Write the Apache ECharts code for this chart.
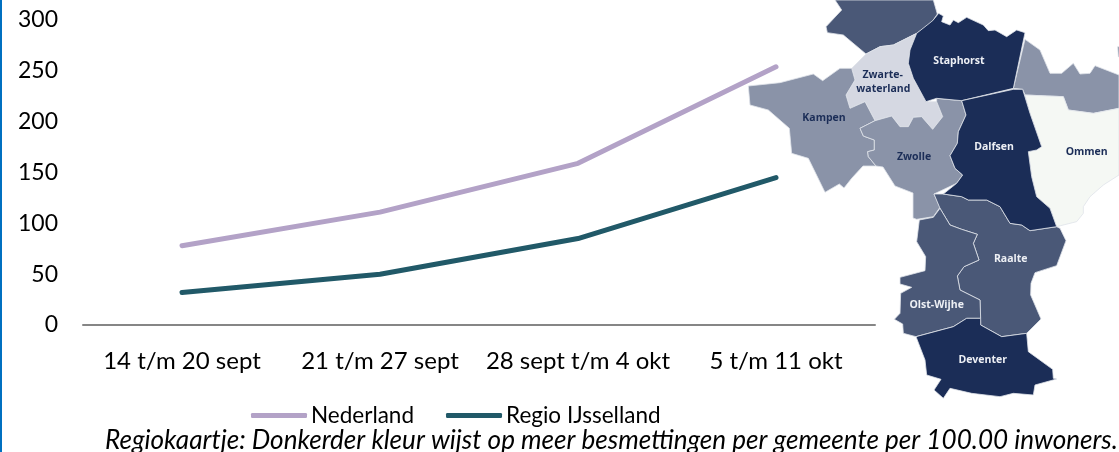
<!DOCTYPE html>
<html>
<head>
<meta charset="utf-8">
<style>
  html, body { margin: 0; padding: 0; background: #fff; overflow: hidden; }
  #chart { width: 1119px; height: 452px; }
</style>
<script src="https://cdn.jsdelivr.net/npm/echarts@6/dist/echarts.min.js"></script>
</head>
<body>
<div id="chart"></div>
<script>
const categories = ["14 t/m 20 sept", "21 t/m 27 sept", "28 sept t/m 4 okt", "5 t/m 11 okt"];
const nederland = [78, 111, 159, 254];
const regioIJsselland = [32, 50, 85, 145];
const yTicks = [0, 50, 100, 150, 200, 250, 300];
const caption = "Regiokaartje: Donkerder kleur wijst op meer besmettingen per gemeente per 100.00 inwoners.";

const FONT = "Lato";
const DARK = "#1b2d57", MID = "#4a5877", GREY = "#8a93a8", LIGHT = "#d5d8e2", PALE = "#f5f8f4";

// background map, traced at 3x (x - 740, y * 3)
const regions = [
  { fill: MID, pts: [[285,0],[305,30],[258,80],[262,98],[310,105],[378,162],[420,140],[460,135],[530,100],[575,68],[592,42],[580,0]] },
  { fill: GREY, pts: [[855,118],[900,150],[930,220],[965,220],[1000,190],[1020,222],[1050,220],[1065,197],[1137,225],[1137,325],[1060,340],[985,330],[970,290],[855,285],[848,268],[820,265]] },
  { fill: GREY, pts: [[1133,140],[1140,140],[1140,172],[1135,170]] },
  { fill: PALE, pts: [[855,285],[970,290],[985,330],[1060,340],[1137,325],[1137,525],[1090,555],[1050,590],[1030,620],[1030,640],[1010,665],[950,680],[930,625],[890,590],[875,530],[865,455],[905,440],[870,340]] },
  { fill: LIGHT, pts: [[335,205],[378,162],[420,140],[460,135],[530,100],[510,150],[505,190],[520,235],[558,305],[590,305],[608,350],[578,388],[545,350],[520,352],[505,380],[480,380],[455,348],[405,362],[375,305],[330,325],[318,285],[345,240]] },
  { fill: GREY, pts: [[25,258],[120,248],[220,222],[248,242],[300,205],[335,205],[345,240],[318,285],[330,325],[375,305],[405,362],[360,385],[370,408],[403,420],[403,450],[383,455],[385,470],[408,498],[369,498],[335,535],[312,564],[298,552],[255,577],[205,475],[155,460],[148,385],[85,330],[30,315]] },
  { fill: GREY, pts: [[360,385],[405,362],[455,348],[480,380],[505,380],[520,352],[545,350],[578,388],[608,350],[590,305],[590,295],[665,302],[678,345],[655,395],[652,430],[630,467],[645,505],[668,525],[650,550],[582,582],[600,622],[580,650],[530,658],[519,654],[519,579],[465,558],[429,501],[408,498],[385,470],[383,455],[403,450],[403,420],[370,408]] },
  { fill: MID, pts: [[582,582],[610,582],[665,590],[685,600],[740,600],[780,620],[810,670],[845,675],[870,692],[950,680],[960,685],[978,722],[950,797],[885,818],[873,850],[872,885],[903,957],[860,1000],[785,1010],[722,975],[720,900],[660,870],[652,828],[672,800],[717,780],[700,730],[712,703],[665,688],[630,675],[600,625]] },
  { fill: MID, pts: [[600,625],[630,675],[665,688],[712,703],[700,730],[717,780],[672,800],[652,828],[660,870],[720,900],[722,955],[680,955],[640,980],[528,1010],[490,1000],[488,972],[463,958],[480,940],[482,880],[515,862],[480,852],[480,832],[555,812],[557,770],[530,725],[538,660],[580,652]] },
  { fill: DARK, pts: [[528,1010],[640,980],[680,955],[722,955],[722,975],[785,1010],[860,1000],[865,1055],[938,1108],[940,1135],[950,1137],[885,1155],[880,1185],[820,1180],[780,1190],[695,1180],[630,1165],[610,1195],[582,1170],[603,1138],[560,1125],[555,1080]] },
  { fill: DARK, pts: [[530,100],[578,62],[596,40],[610,48],[605,65],[630,75],[640,60],[655,68],[680,52],[730,75],[745,92],[765,90],[800,110],[830,90],[855,98],[820,265],[665,302],[590,295],[558,305],[520,235],[505,190],[510,150]] },
  { fill: DARK, pts: [[665,302],[820,268],[848,268],[870,340],[905,440],[890,450],[865,455],[875,530],[890,590],[930,625],[950,680],[870,692],[845,675],[810,670],[780,620],[740,600],[685,600],[665,590],[610,582],[650,550],[668,525],[645,505],[630,467],[652,430],[655,395],[678,345]] },
];

const regionLabels = [
  { text: "Staphorst", x: 657, y: 183, color: "#eef0f5" },
  { text: "Zwarte-", x: 428, y: 225, color: DARK },
  { text: "waterland", x: 430, y: 268, color: DARK },
  { text: "Kampen", x: 252, y: 355, color: DARK },
  { text: "Dalfsen", x: 762, y: 440, color: "#eef0f5" },
  { text: "Zwolle", x: 522, y: 472, color: DARK },
  { text: "Ommen", x: 1040, y: 456, color: DARK },
  { text: "Raalte", x: 812, y: 778, color: "#eef0f5" },
  { text: "Olst-Wijhe", x: 590, y: 916, color: "#eef0f5" },
  { text: "Deventer", x: 728, y: 1079, color: "#eef0f5" },
];

const toPx = ([x, y]) => [740 + x / 3, y / 3];

const graphic = [
  { type: "rect", shape: { x: 0, y: 0, width: 2, height: 452 }, style: { fill: "#0070c0" } },
];
regions.forEach((r) => {
  graphic.push({
    type: "polygon",
    shape: { points: r.pts.map(toPx) },
    style: { fill: r.fill, stroke: "#dfe3ea", lineWidth: 0.8 },
  });
});
regionLabels.forEach((l) => {
  const [x, y] = toPx([l.x, l.y]);
  graphic.push({
    type: "text",
    x, y,
    style: {
      text: l.text,
      fill: l.color,
      font: "bold 10.5px 'Open Sans'",
      textAlign: "center",
      textVerticalAlign: "middle",
    },
  });
});
graphic.push({
  type: "text",
  x: 105,
  y: 441,
  style: {
    text: caption,
    fill: "#000",
    font: "italic 26.1px " + FONT,
    textAlign: "left",
    textVerticalAlign: "middle",
  },
});

const chart = echarts.init(document.getElementById("chart"));
chart.setOption({
  animation: false,
  backgroundColor: "#fff",
  grid: { left: 83, right: 244, top: 20, height: 305 },
  legend: {
    left: 246,
    top: 399,
    icon: "roundRect",
    itemWidth: 56,
    itemHeight: 5,
    itemGap: 32,
    textStyle: { fontFamily: FONT, fontSize: 22.5, color: "#000", padding: [0, 0, 0, -1] },
    data: ["Nederland", "Regio IJsselland"],
  },
  xAxis: {
    type: "category",
    data: categories,
    boundaryGap: true,
    axisLine: { lineStyle: { color: "#868686", width: 2 } },
    axisTick: { show: false },
    axisLabel: { fontFamily: FONT, fontSize: 24, color: "#000", margin: 24, interval: 0 },
  },
  yAxis: {
    type: "value",
    min: yTicks[0],
    max: yTicks[yTicks.length - 1],
    interval: 50,
    axisLine: { show: false },
    axisTick: { show: false },
    splitLine: { show: false },
    axisLabel: { fontFamily: FONT, fontSize: 23, color: "#000", margin: 25 },
  },
  series: [
    {
      name: "Nederland",
      type: "line",
      data: nederland,
      symbol: "none",
      itemStyle: { color: "#b3a2c7" },
      lineStyle: { color: "#b3a2c7", width: 5, cap: "round" },
    },
    {
      name: "Regio IJsselland",
      type: "line",
      data: regioIJsselland,
      symbol: "none",
      itemStyle: { color: "#215968" },
      lineStyle: { color: "#215968", width: 5, cap: "round" },
    },
  ],
  graphic: graphic,
});
</script>
</body>
</html>
